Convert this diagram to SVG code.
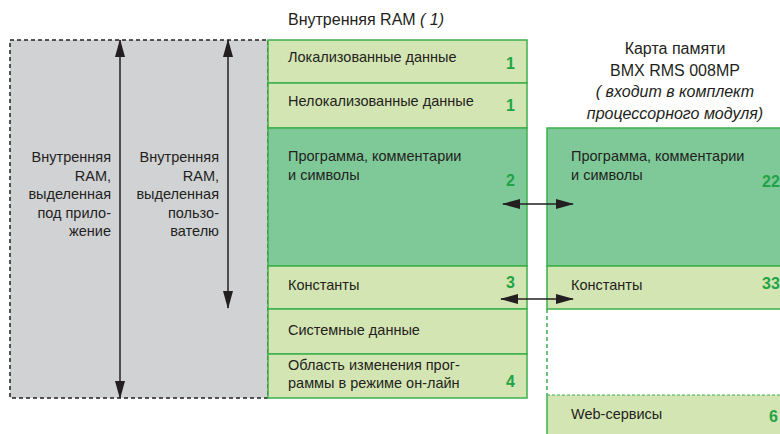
<svg xmlns="http://www.w3.org/2000/svg" width="780" height="434" viewBox="0 0 780 434">
<defs>
<style>
.t{font-family:"Liberation Sans",Arial,sans-serif;font-size:14.5px;fill:#231f20}
.tl{font-family:"Liberation Sans",Arial,sans-serif;font-size:14.5px;fill:#231f20;text-anchor:end}
.h{font-family:"Liberation Sans",Arial,sans-serif;font-size:16px;fill:#231f20}
.hc{font-family:"Liberation Sans",Arial,sans-serif;font-size:16px;fill:#231f20;text-anchor:middle}
.n{font-family:"Liberation Sans",Arial,sans-serif;font-size:16px;font-weight:bold;fill:#22a346;text-anchor:end}
.nl{font-family:"Liberation Sans",Arial,sans-serif;font-size:16px;font-weight:bold;fill:#22a346}
.lg{fill:#d3e5b2;stroke:#3cb04b;stroke-width:1.5}
.dg{fill:#7fc999;stroke:#3cb04b;stroke-width:1.5}
.ar{stroke:#231f20;stroke-width:1.5;fill:none;marker-start:url(#ah);marker-end:url(#ah)}
</style>
<marker id="ah" viewBox="0 0 18 10" refX="17" refY="5" markerWidth="18" markerHeight="10" markerUnits="userSpaceOnUse" orient="auto-start-reverse">
<path d="M0,0 L18,5 L0,10 Z" fill="#231f20"/>
</marker>
</defs>

<g id="app-area">
<rect x="10" y="40" width="258" height="358" fill="#d1d2d4" stroke="#231f20" stroke-width="1.5" stroke-dasharray="4 3"/>
<text class="tl"><tspan x="111" y="162">Внутренняя</tspan><tspan x="111" y="180.5">RAM,</tspan><tspan x="111" y="199">выделенная</tspan><tspan x="111" y="217.5">под прило-</tspan><tspan x="111" y="236">жение</tspan></text>
<text class="tl"><tspan x="219" y="162">Внутренняя</tspan><tspan x="219" y="180.5">RAM,</tspan><tspan x="219" y="199">выделенная</tspan><tspan x="219" y="217.5">пользо-</tspan><tspan x="219" y="236">вателю</tspan></text>
</g>

<g id="ram-title">
<text class="h" x="288" y="25">Внутренняя RAM <tspan font-style="italic">( 1)</tspan></text>
</g>

<g id="ram-localized">
<rect class="lg" x="268" y="40" width="259" height="43"/>
<text class="t" x="288" y="62">Локализованные данные</text>
<text class="n" x="515" y="69">1</text>
</g>
<g id="ram-nonlocalized">
<rect class="lg" x="268" y="83" width="259" height="45"/>
<text class="t" x="288" y="106">Нелокализованные данные</text>
<text class="n" x="515" y="111">1</text>
</g>
<g id="ram-program">
<rect class="dg" x="268" y="128" width="259" height="138"/>
<text class="t"><tspan x="288" y="161">Программа, комментарии</tspan><tspan x="288" y="180">и символы</tspan></text>
<text class="n" x="515" y="186">2</text>
</g>
<g id="ram-constants">
<rect class="lg" x="268" y="266" width="259" height="43"/>
<text class="t" x="288" y="290">Константы</text>
<text class="n" x="515" y="288">3</text>
</g>
<g id="ram-system">
<rect class="lg" x="268" y="309" width="259" height="45"/>
<text class="t" x="288" y="335">Системные данные</text>
</g>
<g id="ram-online">
<rect class="lg" x="268" y="354" width="259" height="44"/>
<text class="t"><tspan x="288" y="370">Область изменения прог-</tspan><tspan x="288" y="388">раммы в режиме он-лайн</tspan></text>
<text class="n" x="515" y="387">4</text>
</g>

<g id="card-title">
<text class="hc"><tspan x="675" y="54">Карта памяти</tspan><tspan x="675" y="75.5">BMX RMS 008MP</tspan><tspan x="675" y="97" font-style="italic">( входит в комплект</tspan><tspan x="675" y="118.5" font-style="italic">процессорного модуля)</tspan></text>
</g>
<g id="card-program">
<rect class="dg" x="547" y="128" width="250" height="138"/>
<text class="t"><tspan x="571" y="161">Программа, комментарии</tspan><tspan x="571" y="180">и символы</tspan></text>
<text class="nl" x="762" y="187">22</text>
</g>
<g id="card-constants">
<rect class="lg" x="547" y="266" width="250" height="43"/>
<text class="t" x="571" y="290">Константы</text>
<text class="nl" x="762" y="289">33</text>
</g>
<line x1="547" y1="309" x2="547" y2="395" stroke="#3cb04b" stroke-width="1.5" stroke-dasharray="4 3"/>
<g id="card-web">
<rect x="547" y="395" width="250" height="45" fill="#d3e5b2"/>
<line x1="547" y1="395" x2="780" y2="395" stroke="#3cb04b" stroke-width="1.2" stroke-dasharray="3 2"/>
<line x1="547" y1="395" x2="547" y2="434" stroke="#3cb04b" stroke-width="1.5"/>
<text class="t" x="571" y="419">Web-сервисы</text>
<text class="nl" x="769" y="422">6</text>
</g>

<g id="connectors">
<line class="ar" x1="120" y1="40" x2="120" y2="398"/>
<line class="ar" x1="228" y1="40" x2="228" y2="308"/>
<line class="ar" x1="503" y1="204" x2="573" y2="204"/>
<line class="ar" x1="501" y1="299" x2="573" y2="299"/>
</g>
</svg>
